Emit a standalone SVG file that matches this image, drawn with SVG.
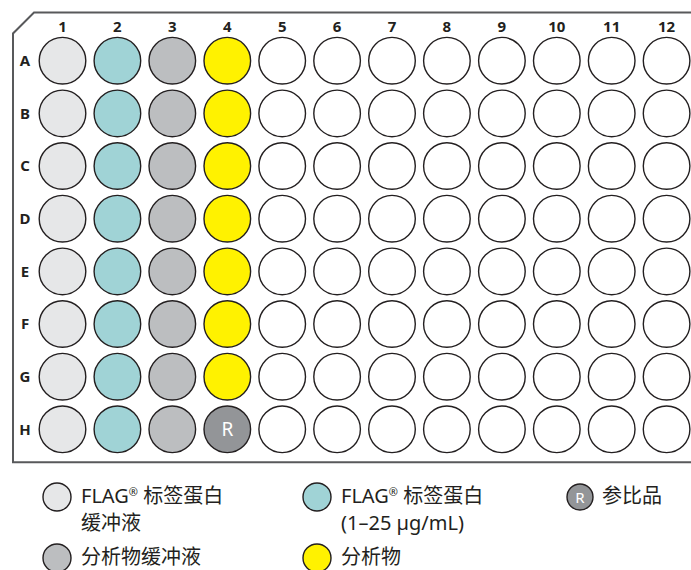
<svg xmlns="http://www.w3.org/2000/svg" width="691" height="570" viewBox="0 0 691 570">
<style>
.w{stroke:#231f20;stroke-width:1.4;fill:#fff}
.c1{fill:#e6e7e8}.c2{fill:#a0d3d6}.c3{fill:#bcbec0}.c4{fill:#fff200}.cr{fill:#939598}
.lab{font-family:"Noto Sans","Liberation Sans",sans-serif;font-size:15px;font-weight:700;fill:#231f20;text-anchor:middle}
.leg{font-family:"Noto Sans","Noto Sans CJK SC",sans-serif;font-size:20px;fill:#231f20}
.r{font-family:"Noto Sans","Liberation Sans",sans-serif;fill:#fff;text-anchor:middle}
</style>
<rect width="691" height="570" fill="#fff"/>
<g id="plate"><path d="M700 12.5 H34 L13 33.5 V462.3 H700" fill="none" stroke="#58595b" stroke-width="2"/></g>
<g id="col-labels">
<text class="lab" x="62.5" y="32">1</text><text class="lab" x="117.4" y="32">2</text><text class="lab" x="172.3" y="32">3</text><text class="lab" x="227.3" y="32">4</text><text class="lab" x="282.2" y="32">5</text><text class="lab" x="337.1" y="32">6</text><text class="lab" x="392" y="32">7</text><text class="lab" x="446.9" y="32">8</text><text class="lab" x="501.9" y="32">9</text><text class="lab" x="556.8" y="32">10</text><text class="lab" x="611.7" y="32">11</text><text class="lab" x="666.6" y="32">12</text>
</g>
<g id="row-labels">
<text class="lab" x="25" y="66">A</text><text class="lab" x="25" y="118.7">B</text><text class="lab" x="25" y="171.3">C</text><text class="lab" x="25" y="224">D</text><text class="lab" x="25" y="276.7">E</text><text class="lab" x="25" y="329.3">F</text><text class="lab" x="25" y="382">G</text><text class="lab" x="25" y="434.6">H</text>
</g>
<defs>
<g id="row">
<circle class="w c1" cx="62.5" cy="0" r="23.3"/>
<circle class="w c2" cx="117.4" cy="0" r="23.3"/>
<circle class="w c3" cx="172.3" cy="0" r="23.3"/>
<circle class="w" cx="282.2" cy="0" r="23.3"/>
<circle class="w" cx="337.1" cy="0" r="23.3"/>
<circle class="w" cx="392" cy="0" r="23.3"/>
<circle class="w" cx="446.9" cy="0" r="23.3"/>
<circle class="w" cx="501.9" cy="0" r="23.3"/>
<circle class="w" cx="556.8" cy="0" r="23.3"/>
<circle class="w" cx="611.7" cy="0" r="23.3"/>
<circle class="w" cx="666.6" cy="0" r="23.3"/>
</g>
</defs>
<g id="wells">
<g id="row-A"><use href="#row" y="60.7"/><circle class="w c4" cx="227.3" cy="60.7" r="23.3"/></g>
<g id="row-B"><use href="#row" y="113.4"/><circle class="w c4" cx="227.3" cy="113.4" r="23.3"/></g>
<g id="row-C"><use href="#row" y="166"/><circle class="w c4" cx="227.3" cy="166" r="23.3"/></g>
<g id="row-D"><use href="#row" y="218.7"/><circle class="w c4" cx="227.3" cy="218.7" r="23.3"/></g>
<g id="row-E"><use href="#row" y="271.4"/><circle class="w c4" cx="227.3" cy="271.4" r="23.3"/></g>
<g id="row-F"><use href="#row" y="324"/><circle class="w c4" cx="227.3" cy="324" r="23.3"/></g>
<g id="row-G"><use href="#row" y="376.7"/><circle class="w c4" cx="227.3" cy="376.7" r="23.3"/></g>
<g id="row-H"><use href="#row" y="429.3"/><circle class="w cr" cx="227.3" cy="429.3" r="23.3"/><text class="r" x="227.3" y="436.3" font-size="19">R</text></g>
</g>
<g id="connectors"></g>
<g id="legend">
<g id="leg-flag-buffer"><circle class="w c1" cx="57" cy="497" r="14"/><text class="leg" x="81" y="503">FLAG<tspan font-size="11" dy="-7">®</tspan><tspan dy="7"> 标签蛋白</tspan></text><text class="leg" x="81" y="530">缓冲液</text></g>
<g id="leg-analyte-buffer"><circle class="w c3" cx="57" cy="558" r="14"/><text class="leg" x="81" y="564">分析物缓冲液</text></g>
<g id="leg-flag"><circle class="w c2" cx="317" cy="497" r="14"/><text class="leg" x="341" y="503">FLAG<tspan font-size="11" dy="-7">®</tspan><tspan dy="7"> 标签蛋白</tspan></text><text class="leg" x="341" y="530">(1–25 µg/mL)</text></g>
<g id="leg-analyte"><circle class="w c4" cx="317" cy="558" r="14"/><text class="leg" x="341" y="564">分析物</text></g>
<g id="leg-ref"><circle class="w cr" cx="580" cy="497" r="13"/><text class="r" x="580" y="502.5" font-size="15">R</text><text class="leg" x="602" y="503">参比品</text></g>
</g>
</svg>
